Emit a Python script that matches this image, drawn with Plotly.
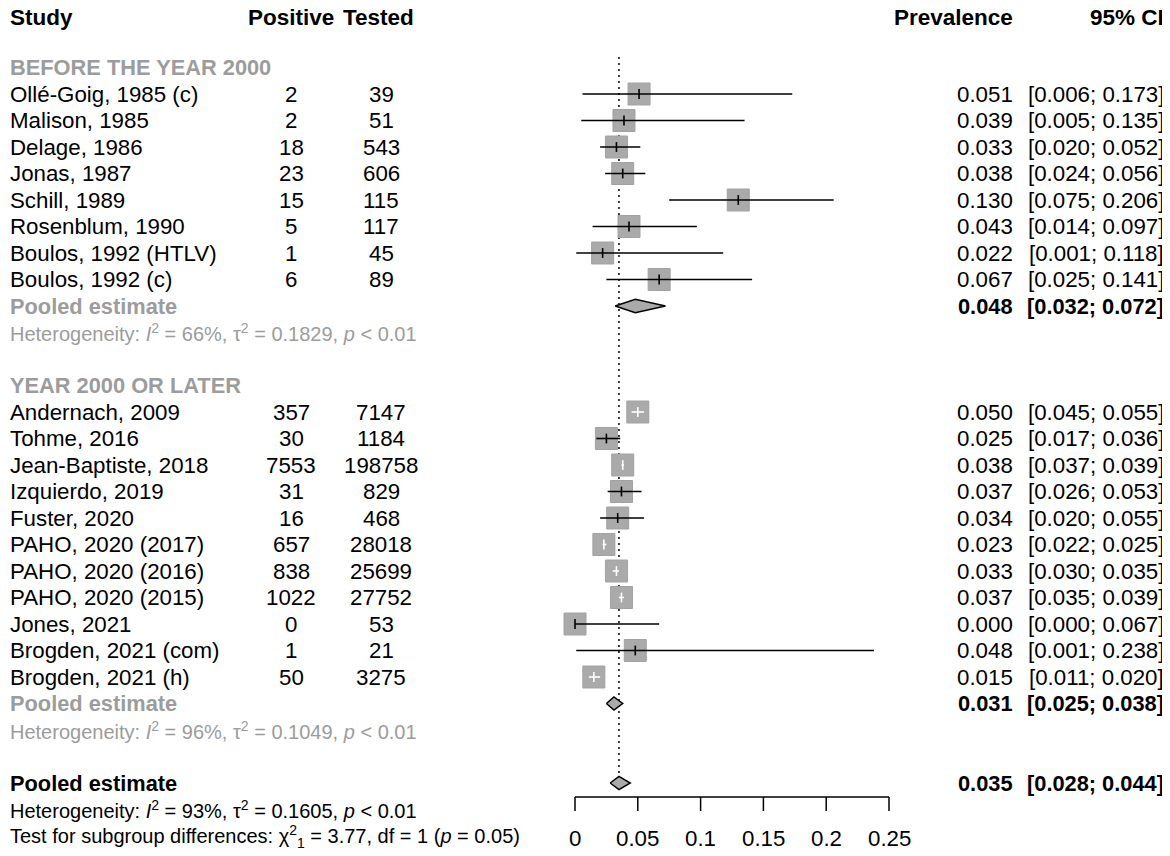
import plotly.graph_objects as go

# study data
studies_pre = ["Ollé-Goig, 1985 (c)", "Malison, 1985", "Delage, 1986", "Jonas, 1987",
               "Schill, 1989", "Rosenblum, 1990", "Boulos, 1992 (HTLV)", "Boulos, 1992 (c)"]
pos_pre = [2, 2, 18, 23, 15, 5, 1, 6]
tested_pre = [39, 51, 543, 606, 115, 117, 45, 89]
prev_pre = [0.051, 0.039, 0.033, 0.038, 0.130, 0.043, 0.022, 0.067]
lo_pre = [0.006, 0.005, 0.020, 0.024, 0.075, 0.014, 0.001, 0.025]
hi_pre = [0.173, 0.135, 0.052, 0.056, 0.206, 0.097, 0.118, 0.141]

studies_post = ["Andernach, 2009", "Tohme, 2016", "Jean-Baptiste, 2018", "Izquierdo, 2019",
                "Fuster, 2020", "PAHO, 2020 (2017)", "PAHO, 2020 (2016)", "PAHO, 2020 (2015)",
                "Jones, 2021", "Brogden, 2021 (com)", "Brogden, 2021 (h)"]
pos_post = [357, 30, 7553, 31, 16, 657, 838, 1022, 0, 1, 50]
tested_post = [7147, 1184, 198758, 829, 468, 28018, 25699, 27752, 53, 21, 3275]
prev_post = [0.050, 0.025, 0.038, 0.037, 0.034, 0.023, 0.033, 0.037, 0.000, 0.048, 0.015]
lo_post = [0.045, 0.017, 0.037, 0.026, 0.020, 0.022, 0.030, 0.035, 0.000, 0.001, 0.011]
hi_post = [0.055, 0.036, 0.039, 0.053, 0.055, 0.025, 0.035, 0.039, 0.067, 0.238, 0.020]

# pooled estimates: before 2000, 2000 or later, overall
pooled_est = [0.048, 0.031, 0.035]
pooled_lo = [0.032, 0.025, 0.028]
pooled_hi = [0.072, 0.038, 0.044]

het_pre = "Heterogeneity: <i>I</i><sup>2</sup> = 66%, τ<sup>2</sup> = 0.1829, <i>p</i> < 0.01"
het_post = "Heterogeneity: <i>I</i><sup>2</sup> = 96%, τ<sup>2</sup> = 0.1049, <i>p</i> < 0.01"
het_all = "Heterogeneity: <i>I</i><sup>2</sup> = 93%, τ<sup>2</sup> = 0.1605, <i>p</i> < 0.01"
test_sub = ("Test for subgroup differences: χ<sup>2</sup><sub>1</sub> = 3.77, df = 1 "
            "(<i>p</i> = 0.05)")

tick_vals = [0, 0.05, 0.1, 0.15, 0.2, 0.25]
tick_text = ["0", "0.05", "0.1", "0.15", "0.2", "0.25"]

FONT = "Liberation Sans"
FS = 22.3       # study rows
FS_BOLD = 21.8  # subgroup titles / pooled lines
FS_HEAD = 22.5  # column headings
FS_HET = 20.0   # heterogeneity / test lines
GREY_TXT = "#9c9c9c"
SQ = "#aaaaaa"

# the page has an 8px body margin, so the figure is a bit smaller and
# every reference pixel is shifted by OFF
OFF = 8
W, H = 1170 - OFF, 856 - OFF
SQ_PX = 22
PX_PER_UNIT = (889 - 575) / 0.25
X0 = 575 - OFF
XR = [-X0 / PX_PER_UNIT, (W - X0) / PX_PER_UNIT]
ROW0, ROW_H = 14.5 - OFF, 26.5
YR = [(H - ROW0) / ROW_H, -ROW0 / ROW_H]


def row_of(py):
    return (py - OFF - ROW0) / ROW_H


COL_STUDY, COL_POS, COL_TEST, COL_PREV, COL_CI = 7, 291, 381, 1015, 1166

fig = go.Figure()
ann = []


def txt(px, row, s, anchor="left", color="black", bold=False, size=FS):
    if bold:
        s = "<b>" + s + "</b>"
    ann.append(dict(x=max(px - OFF, 0) / W, y=row, xref="paper", yref="y", text=s,
                    showarrow=False, xanchor=anchor, yanchor="middle",
                    font=dict(family=FONT, size=size, color=color)))


# headers (nudged down a little so the top margin does not clip them)
head_row = row_of(17.5)
txt(COL_STUDY, head_row, "Study", bold=True, size=FS_HEAD)
txt(291, head_row, "Positive", anchor="center", bold=True, size=FS_HEAD)
txt(378, head_row, "Tested", anchor="center", bold=True, size=FS_HEAD)
txt(COL_PREV, head_row, "Prevalence", anchor="right", bold=True, size=FS_HEAD)
txt(COL_CI, head_row, "95% CI", anchor="right", bold=True, size=FS_HEAD)

rows_all, est_all, lo_all, hi_all = [], [], [], []
diamond_rows = []


def group(start, title, names, pos, tested, est, lo, hi, k, het):
    r = start
    txt(COL_STUDY, r, title, color=GREY_TXT, bold=True, size=FS_BOLD)
    r += 1
    for i in range(len(names)):
        txt(COL_STUDY, r, names[i])
        txt(COL_POS, r, str(pos[i]), anchor="center")
        txt(COL_TEST, r, str(tested[i]), anchor="center")
        txt(COL_PREV, r, f"{est[i]:.3f}", anchor="right")
        txt(COL_CI, r, f"[{lo[i]:.3f}; {hi[i]:.3f}]", anchor="right")
        rows_all.append(r)
        est_all.append(est[i])
        lo_all.append(lo[i])
        hi_all.append(hi[i])
        r += 1
    txt(COL_STUDY, r, "Pooled estimate", color=GREY_TXT, bold=True, size=FS_BOLD)
    txt(COL_PREV, r, f"{pooled_est[k]:.3f}", anchor="right", bold=True, size=FS_BOLD)
    txt(COL_CI, r, f"[{pooled_lo[k]:.3f}; {pooled_hi[k]:.3f}]", anchor="right",
        bold=True, size=FS_BOLD)
    diamond_rows.append(r)
    r += 1
    txt(COL_STUDY, r, het, color=GREY_TXT, size=FS_HET)
    return r + 2


r = group(2, "BEFORE THE YEAR 2000", studies_pre, pos_pre, tested_pre,
          prev_pre, lo_pre, hi_pre, 0, het_pre)
r = group(r, "YEAR 2000 OR LATER", studies_post, pos_post, tested_post,
          prev_post, lo_post, hi_post, 1, het_post)
txt(COL_STUDY, r, "Pooled estimate", bold=True, size=FS_BOLD)
txt(COL_PREV, r, f"{pooled_est[2]:.3f}", anchor="right", bold=True, size=FS_BOLD)
txt(COL_CI, r, f"[{pooled_lo[2]:.3f}; {pooled_hi[2]:.3f}]", anchor="right",
    bold=True, size=FS_BOLD)
diamond_rows.append(r)
txt(COL_STUDY, r + 1, het_all, size=FS_HET)
txt(COL_STUDY, r + 2, test_sub, size=FS_HET)

# reference line at overall estimate
fig.add_trace(go.Scatter(x=[pooled_est[2], pooled_est[2]], y=[row_of(57), row_of(778)],
                         mode="lines", line=dict(color="black", width=1.5, dash="2px,4px"),
                         hoverinfo="skip"))

# squares
fig.add_trace(go.Scatter(x=est_all, y=rows_all, mode="markers",
                         marker=dict(symbol="square", size=SQ_PX, color=SQ,
                                     line=dict(color="#a2a2a2", width=1)),
                         hoverinfo="skip"))

# CI lines: white when entirely inside the square
half = SQ_PX / 2 / PX_PER_UNIT
for col in ["black", "white"]:
    xs, ys, tx, ty = [], [], [], []
    for e, l, h, rr in zip(est_all, lo_all, hi_all, rows_all):
        inside = (e - l) < half and (h - e) < half
        if (col == "white") != inside:
            continue
        xs += [l, h, None]
        ys += [rr, rr, None]
        tx.append(e)
        ty.append(rr)
    fig.add_trace(go.Scatter(x=xs, y=ys, mode="lines", line=dict(color=col, width=1.6),
                             hoverinfo="skip"))
    fig.add_trace(go.Scatter(x=tx, y=ty, mode="markers",
                             marker=dict(symbol="line-ns", size=7,
                                         line=dict(color=col, width=1.6)),
                             hoverinfo="skip"))

# diamonds
dh = 0.25
for k, rr in enumerate(diamond_rows):
    fig.add_trace(go.Scatter(x=[pooled_lo[k], pooled_est[k], pooled_hi[k], pooled_est[k], pooled_lo[k]],
                             y=[rr, rr - dh, rr, rr + dh, rr], mode="lines", fill="toself",
                             fillcolor=SQ, line=dict(color="black", width=1.5),
                             hoverinfo="skip"))

# x axis drawn by hand below the plot
ax_row, tk_row, lab_row = row_of(797), row_of(811), row_of(838)
fig.add_trace(go.Scatter(x=[tick_vals[0], tick_vals[-1]], y=[ax_row, ax_row], mode="lines",
                         line=dict(color="black", width=1.5), hoverinfo="skip"))
xs, ys = [], []
for t in tick_vals:
    xs += [t, t, None]
    ys += [ax_row, tk_row, None]
fig.add_trace(go.Scatter(x=xs, y=ys, mode="lines", line=dict(color="black", width=1.5),
                         hoverinfo="skip"))
for t, s in zip(tick_vals, tick_text):
    ann.append(dict(x=t, y=lab_row, xref="x", yref="y", text=s, showarrow=False,
                    xanchor="center", yanchor="middle",
                    font=dict(family=FONT, size=FS, color="black")))

fig.update_layout(width=W, height=H, margin=dict(l=0, r=0, t=0, b=0),
                  paper_bgcolor="white", plot_bgcolor="white", showlegend=False,
                  annotations=ann,
                  xaxis=dict(range=XR, visible=False, fixedrange=True),
                  yaxis=dict(range=YR, visible=False, fixedrange=True))

fig.write_html("out.html")
